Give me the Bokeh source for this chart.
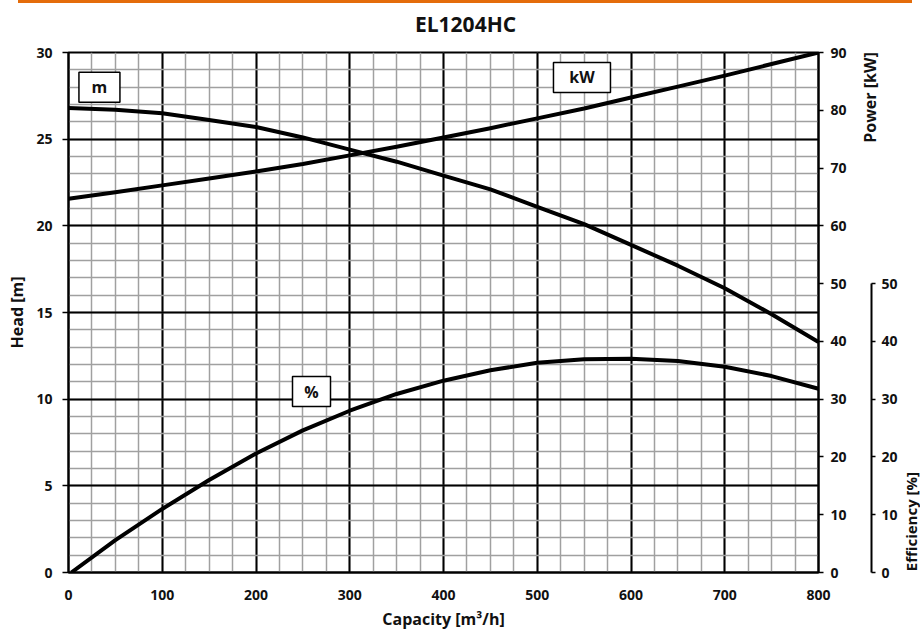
import math
from bokeh.plotting import figure
from bokeh.models import Range1d, LinearAxis, SingleIntervalTicker, Div, ColumnDataSource, Label
from bokeh.layouts import column
from bokeh.embed import file_html
from bokeh.resources import INLINE
from bokeh.core.properties import value

# ---- data ----
capacity = [0, 50, 100, 150, 200, 250, 300, 350, 400, 450, 500, 550, 600, 650, 700, 750, 800]
head_m = [26.8, 26.7, 26.5, 26.1, 25.7, 25.1, 24.4, 23.7, 22.9, 22.1, 21.1, 20.1, 18.9, 17.7, 16.4, 14.9, 13.3]
power_kw = [64.7, 65.8, 67.0, 68.2, 69.4, 70.7, 72.2, 73.7, 75.3, 76.9, 78.6, 80.3, 82.2, 84.1, 86.0, 88.0, 90.0]
eff_capacity = [3, 50, 100, 150, 200, 250, 300, 350, 400, 450, 500, 550, 600, 650, 700, 750, 800]
eff_pct = [0.0, 5.6, 11.0, 16.0, 20.6, 24.6, 28.0, 30.9, 33.2, 35.0, 36.3, 36.9, 37.0, 36.6, 35.6, 34.0, 31.8]

curve_tags = ["m", "kW", "%"]
tag_capacity = [33, 547.7, 259.2]
tag_head = [28.0, 28.56, 10.44]

title_text = "EL1204HC"
x_label = "Capacity [m³/h]"
head_label = "Head [m]"
power_label = "Power [kW]"
eff_label = "Efficiency [%]"

FONT = "Open Sans"
INK = "#111111"

p = figure(width=920, height=629,
           x_range=Range1d(0, 800), y_range=Range1d(0, 30),
           output_backend="svg", toolbar_location=None,
           min_border_left=68, min_border_right=102,
           min_border_top=49, min_border_bottom=60)
p.background_fill_color = "white"
p.border_fill_color = "white"
p.outline_line_color = "black"
p.outline_line_width = 2
p.title.visible = False

p.extra_y_ranges = {"power": Range1d(0, 90), "eff": Range1d(0, 90)}

xax = p.xaxis[0]
yax = p.yaxis[0]
xax.ticker = SingleIntervalTicker(interval=100, num_minor_ticks=4)
yax.ticker = SingleIntervalTicker(interval=5, num_minor_ticks=5)


def style_axis(ax):
    ax.axis_line_color = "black"
    ax.axis_line_width = 2
    ax.major_tick_line_color = "black"
    ax.major_tick_line_width = 1.5
    ax.major_tick_in = 0
    ax.minor_tick_in = 0
    ax.minor_tick_out = 0
    ax.major_label_text_font = FONT
    ax.major_label_text_font_style = "bold"
    ax.major_label_text_font_size = "14px"
    ax.major_label_text_color = INK
    ax.axis_label_text_font = FONT
    ax.axis_label_text_font_style = "bold"
    ax.axis_label_text_font_size = "16px"
    ax.axis_label_text_color = INK


style_axis(xax)
xax.major_tick_out = 0
xax.major_label_standoff = 17
xax.axis_label = x_label
xax.axis_label_standoff = 5

style_axis(yax)
yax.major_tick_out = 6
yax.major_label_standoff = 10
yax.axis_label = head_label
yax.axis_label_standoff = 5


def outer_label(x, y, text, size, angle=0.0, baseline="middle"):
    return Label(x=x, y=y, angle=angle, text=text, text_font=FONT,
                 text_font_style="bold", text_font_size=size, text_align="center",
                 text_baseline=baseline, text_line_height=1.0, text_color=INK)


# chart title, kept in the top panel so it is not clipped to the frame
p.add_layout(outer_label(423.5, 31.65, title_text, "21px", baseline="alphabetic"), "above")

# right side, from the frame outwards: power axis, its title, efficiency axis, its title
pax = LinearAxis(y_range_name="power", ticker=SingleIntervalTicker(interval=10, num_minor_ticks=0))
style_axis(pax)
pax.major_tick_out = 5
pax.major_label_standoff = 7
p.add_layout(pax, "right")

p.add_layout(outer_label(855, 27.4, power_label, "16px", angle=math.pi / 2), "right")

eax = LinearAxis(y_range_name="eff", bounds=(0, 50), ticker=SingleIntervalTicker(interval=10, num_minor_ticks=0))
style_axis(eax)
eax.major_tick_out = 4
eax.major_label_standoff = 6
p.add_layout(eax, "right")

p.add_layout(outer_label(899, 2.94, eff_label, "15px", angle=math.pi / 2), "right")

for g in (p.xgrid[0], p.ygrid[0]):
    g.grid_line_color = "black"
    g.grid_line_width = 2
    g.minor_grid_line_color = "#a0a0a0"
    g.minor_grid_line_width = 1.5

# curves
p.line(capacity, head_m, line_width=4, line_color="black", line_join="round")
p.line(capacity, power_kw, y_range_name="power", line_width=4, line_color="black", line_join="round")
p.line(eff_capacity, eff_pct, y_range_name="eff", line_width=4, line_color="black", line_join="round")

# curve tags (boxed labels)
tags = ColumnDataSource(dict(x=tag_capacity, y=tag_head, t=curve_tags, w=[41, 57, 38]))
p.rect(x="x", y="y", width="w", height=30, width_units="screen", height_units="screen", source=tags,
       fill_color="white", line_color="black", line_width=1.5)
p.text(x="x", y="y", text="t", source=tags, text_font=value(FONT), text_font_style="bold",
       text_font_size="16px", text_align="center", text_baseline="middle", text_color=INK)

bar = Div(text="", width=894, height=3, margin=(0, 0, 0, 18), styles={"background-color": "#E46C0A"})
layout = column(bar, p, spacing=0)

open("out.html", "w").write(file_html(layout, INLINE))
